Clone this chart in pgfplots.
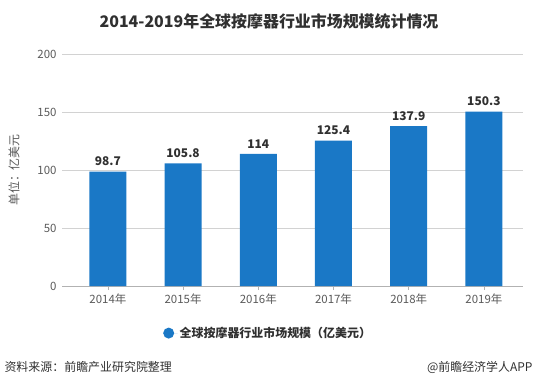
\documentclass[border=0pt]{standalone}
\usepackage{pgfplots}
\pgfplotsset{compat=1.18}
\usepackage{fontspec}
\setmainfont{Noto Sans CJK SC}
\definecolor{barblue}{HTML}{1A78C6}
\definecolor{ticktxt}{HTML}{5A5A5A}
\definecolor{darktxt}{HTML}{303030}
\begin{document}
\begin{tikzpicture}[x=1bp,y=1bp]
\path[use as bounding box] (0,0) rectangle (538,387);
\node[font=\bfseries\fontsize{16}{18}\selectfont, text=darktxt] at (269,366) {2014-2019年全球按摩器行业市场规模统计情况};
\begin{axis}[
  at={(62bp,101bp)}, anchor=south west,
  scale only axis, width=461bp, height=232bp,
  xmin=-0.61, xmax=5.52, ymin=0, ymax=200,
  ytick={0,50,100,150,200},
  xtick={0,1,2,3,4,5},
  xticklabels={2014年,2015年,2016年,2017年,2018年,2019年},
  /pgf/number format/assume math mode=true,
  ymajorgrids, grid style={draw=gray!35, line width=0.6pt},
  axis x line*=bottom, axis y line*=left,
  y axis line style={draw=none},
  x axis line style={draw=gray!60, line width=0.7pt, -},
  major y tick style={draw=none},
  major x tick style={draw=gray!60, line width=0.6pt},
  xtick align=outside, major tick length=4bp,
  tick label style={font=\fontsize{11.5}{13}\selectfont, text=ticktxt},
  yticklabel style={xshift=-2bp},
  ylabel={单位：亿美元},
  ylabel style={at={(axis description cs:-0.104,0.5)}, anchor=center, rotate=0, font=\fontsize{12}{14}\selectfont, text=ticktxt},
  ybar, bar width=37bp,
  nodes near coords,
  nodes near coords style={font=\bfseries\fontsize{12}{14}\selectfont, text=darktxt, yshift=2bp},
  legend style={at={(axis description cs:0.447,-0.203)}, anchor=center, draw=none, fill=none, font=\bfseries\fontsize{12}{14}\selectfont, text=darktxt},
  legend image code/.code={\fill[barblue] (0bp,0bp) circle (5.5bp); \path (5bp,0bp) -- (9bp,0bp);},
]
\addplot[fill=barblue, draw=none] coordinates {(0,98.7) (1,105.8) (2,114) (3,125.4) (4,137.9) (5,150.3)};
\addlegendentry{全球按摩器行业市场规模（亿美元）}
\end{axis}
\node[anchor=west, font=\fontsize{12}{14}\selectfont, text=darktxt] at (1,20) {资料来源：前瞻产业研究院整理};
\node[anchor=east, font=\fontsize{12}{14}\selectfont, text=darktxt] at (536,20) {@前瞻经济学人APP};
\end{tikzpicture}
\end{document}
